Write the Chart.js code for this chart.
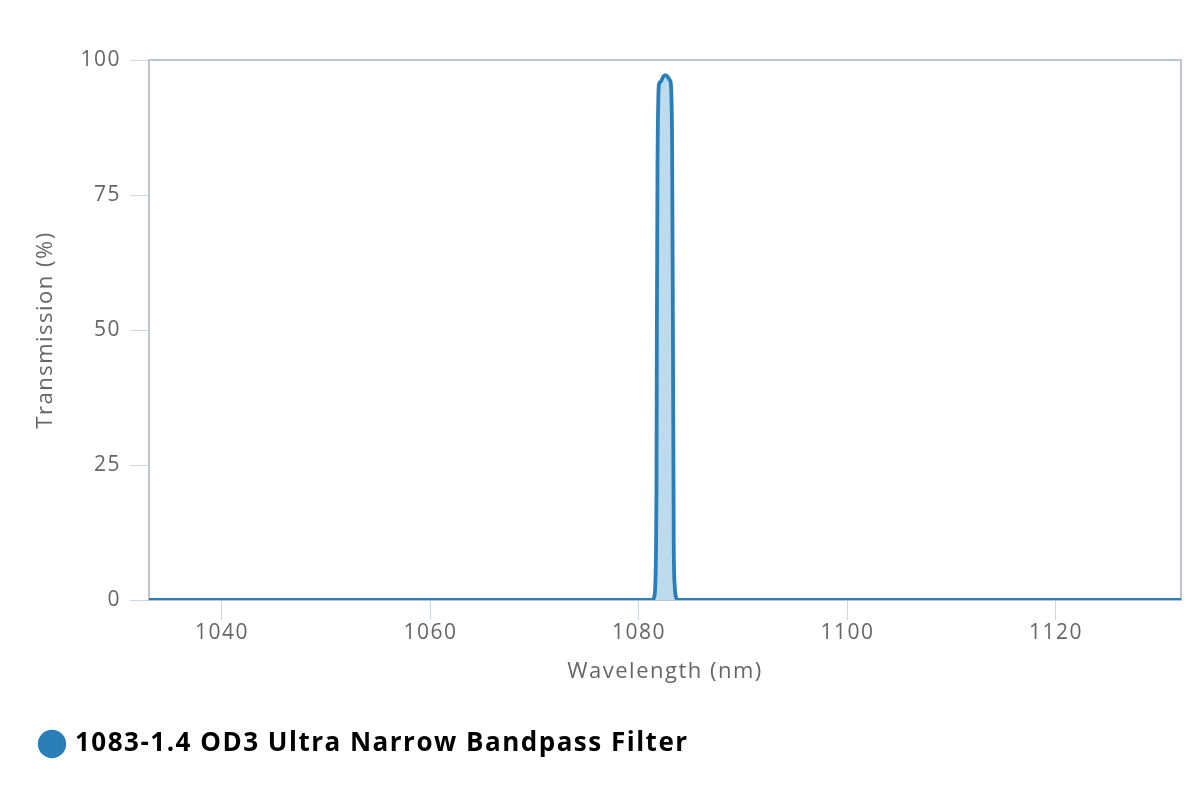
<!DOCTYPE html>
<html><head><meta charset="utf-8">
<script src="https://cdn.jsdelivr.net/npm/chart.js@4.4.1/dist/chart.umd.min.js"></script>
<style>html,body{margin:0;padding:0;background:#fff}#wrap{width:1200px;height:800px}</style>
</head><body><div id="wrap"><canvas id="c" width="1200" height="800"></canvas></div>
<script>
const seriesName = '1083-1.4 OD3 Ultra Narrow Bandpass Filter';
const wavelength = [1033, 1081.3, 1081.45, 1081.55, 1081.63, 1081.68, 1081.72, 1081.78, 1081.85, 1081.92, 1082.1, 1082.3, 1082.5, 1082.7, 1082.88, 1082.95, 1083.05, 1083.12, 1083.18, 1083.26, 1083.34, 1083.42, 1083.5, 1083.6, 1083.7, 1132];
const transmission = [0, 0, 0.5, 2, 8, 20, 50, 80, 92, 95.5, 96, 96.8, 97.2, 97, 96.5, 96.3, 95.8, 93, 85, 50, 10, 3, 1, 0.3, 0, 0];
const xTicks = [1040, 1060, 1080, 1100, 1120];
const yTicks = [0, 25, 50, 75, 100];

const points = wavelength.map((w, i) => ({x: w, y: transmission[i]}));
const tickFont = {family: 'Open Sans', size: 21};
const titleFont = {family: 'Open Sans', size: 22};
const spacing = {
  id: 'spacing',
  beforeUpdate(chart) { chart.ctx.letterSpacing = '1.5px'; },
  beforeLayout(chart) { chart.ctx.letterSpacing = '1.5px'; },
  beforeDraw(chart) { chart.ctx.letterSpacing = '1.5px'; }
};
const frame = {
  id: 'frame',
  beforeDatasetsDraw(chart) {
    const a = chart.chartArea, ctx = chart.ctx;
    ctx.save();
    ctx.strokeStyle = '#c0c4cc';
    ctx.lineWidth = 2;
    ctx.beginPath();
    ctx.moveTo(a.left, a.top); ctx.lineTo(a.right, a.top); ctx.lineTo(a.right, a.bottom);
    ctx.stroke();
    ctx.restore();
  }
};
new Chart(document.getElementById('c'), {
  type: 'line',
  data: {datasets: [{
    label: seriesName,
    data: points,
    borderColor: '#2b7fb9',
    backgroundColor: '#2b7fb9',
    borderWidth: 3.8,
    borderJoinStyle: 'round',
    pointRadius: 0,
    cubicInterpolationMode: 'monotone',
    fill: {target: 'origin', above: '#bddbec'}
  }]},
  options: {
    responsive: false,
    animation: false,
    layout: {padding: {left: 28, right: 19, top: 60, bottom: 33}},
    plugins: {
      tooltip: {enabled: false},
      legend: {
        position: 'bottom', align: 'start',
        labels: {
          usePointStyle: true, pointStyle: 'circle',
          boxWidth: 20, boxHeight: 20, padding: 14,
          color: '#333333',
          font: {family: 'Open Sans', size: 26, weight: '700'},
          generateLabels(chart) {
            return [{text: seriesName, fillStyle: '#2b7fb9', strokeStyle: '#2b7fb9', lineWidth: 0, pointStyle: 'circle', datasetIndex: 0}];
          }
        }
      }
    },
    scales: {
      x: {
        type: 'linear', min: 1033, max: 1132,
        afterBuildTicks(s) { s.ticks = xTicks.map(v => ({value: v})); },
        afterFit(s) { s.height = 117; },
        grid: {drawOnChartArea: false, drawTicks: true, tickLength: 20, color: '#ccd6eb', lineWidth: 1},
        border: {color: '#c0c0c0', width: 2},
        ticks: {color: '#666666', font: tickFont, padding: 0, maxRotation: 0, callback: v => String(v)},
        title: {display: true, text: 'Wavelength (nm)', color: '#666666', font: titleFont, padding: {top: 6, bottom: 32}}
      },
      y: {
        min: 0, max: 100,
        afterBuildTicks(s) { s.ticks = yTicks.map(v => ({value: v})); },
        afterFit(s) { s.width = 121; },
        grid: {drawOnChartArea: false, drawTicks: true, tickLength: 19, color: '#ccd6eb', lineWidth: 1},
        border: {color: '#c0c4cc', width: 2},
        ticks: {color: '#666666', font: tickFont, padding: 9, callback: v => String(v)},
        title: {display: true, text: 'Transmission (%)', color: '#666666', font: titleFont, padding: {top: 5, bottom: 3}}
      }
    }
  },
  plugins: [spacing, frame]
});
</script></body></html>
